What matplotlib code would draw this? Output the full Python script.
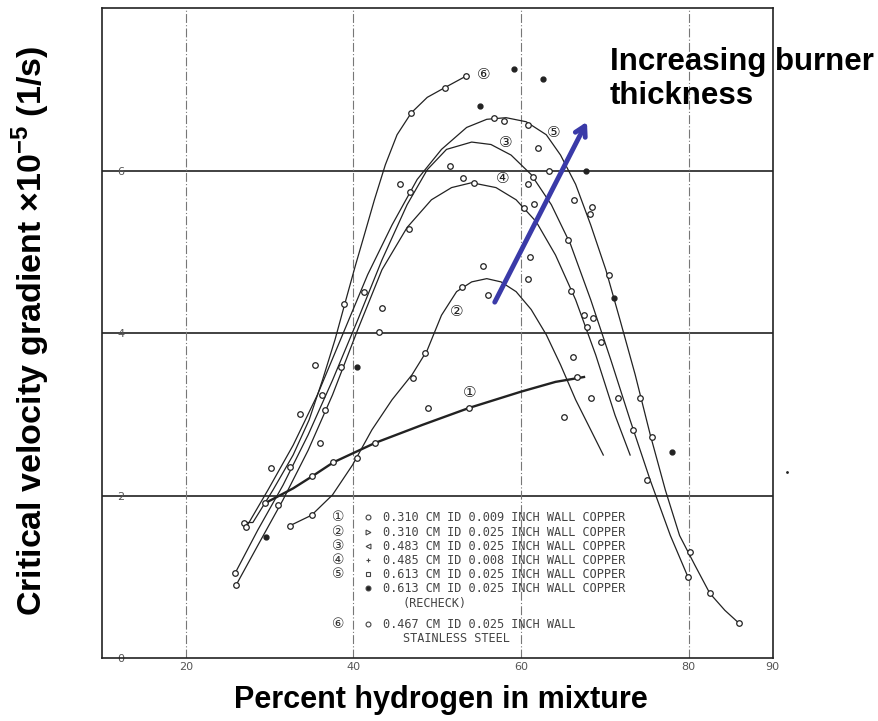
import numpy as np
import matplotlib
matplotlib.use("Agg")
import matplotlib.pyplot as plt

plt.rcParams['mathtext.fontset'] = 'custom'
plt.rcParams['mathtext.rm'] = 'Liberation Sans:bold'
plt.rcParams['mathtext.bf'] = 'Liberation Sans:bold'

# curve traces (percent H2, gradient x1e-5)
c1_x = [29.5, 32.8, 35.1, 37.6, 42.6, 48.2, 53.8, 60.0, 64.1, 67.5]
c1_y = [1.91, 2.09, 2.24, 2.41, 2.65, 2.87, 3.08, 3.28, 3.40, 3.46]
c2_x = [32.4, 35.0, 37.5, 39.9, 42.2, 44.6, 47.0, 48.8, 50.5, 52.3, 54.1, 55.9, 57.6, 59.4,
        61.2, 63.0, 64.7, 66.5, 68.3, 69.8]
c2_y = [1.63, 1.76, 2.01, 2.38, 2.81, 3.18, 3.49, 3.79, 4.22, 4.51, 4.63, 4.67, 4.63, 4.51,
        4.29, 3.98, 3.61, 3.18, 2.81, 2.50]
c3_x = [25.9, 28.6, 31.6, 34.6, 37.5, 40.5, 43.4, 46.4, 48.8, 51.1, 54.1, 56.4, 58.8, 61.2,
        63.6, 65.9, 68.3, 70.7, 73.0, 75.4, 77.8, 79.9]
c3_y = [1.05, 1.58, 2.13, 2.75, 3.42, 4.16, 4.90, 5.58, 6.01, 6.26, 6.35, 6.32, 6.19, 5.95,
        5.58, 5.09, 4.41, 3.67, 2.93, 2.19, 1.51, 1.00]
c4_x = [26.0, 28.6, 31.6, 34.6, 37.5, 40.5, 43.4, 46.4, 49.3, 51.7, 54.1, 57.0, 59.4, 61.8,
        64.1, 66.5, 68.9, 71.2, 73.0]
c4_y = [0.90, 1.39, 1.95, 2.56, 3.24, 4.04, 4.78, 5.30, 5.64, 5.79, 5.85, 5.79, 5.64, 5.37,
        4.96, 4.41, 3.73, 2.99, 2.50]
c5_x = [27.2, 29.8, 32.8, 35.7, 38.7, 41.7, 44.6, 47.6, 50.5, 53.5, 55.9, 58.2, 60.6, 63.0,
        64.7, 66.5, 68.3, 70.1, 71.8, 73.6, 75.4, 77.2, 78.9, 80.7, 82.5, 84.3, 86.0]
c5_y = [1.61, 2.07, 2.62, 3.24, 3.98, 4.72, 5.33, 5.89, 6.26, 6.53, 6.63, 6.65, 6.60, 6.44,
        6.19, 5.83, 5.33, 4.78, 4.16, 3.49, 2.75, 2.07, 1.51, 1.15, 0.80, 0.59, 0.43]
c6_x = [26.9, 28.0, 30.4, 32.8, 34.7, 36.3, 37.8, 39.1, 40.2, 41.3, 42.5, 43.8, 45.2, 46.9,
        48.8, 50.9, 53.4]
c6_y = [1.67, 1.67, 2.07, 2.50, 2.93, 3.42, 3.92, 4.41, 4.82, 5.21, 5.64, 6.07, 6.44, 6.71,
        6.90, 7.02, 7.16]

# measured points (open symbols)
pts_x = [26.9, 27.2, 25.9, 26.0, 31.0, 29.5, 30.2, 32.4, 33.6, 35.1, 35.4, 36.2, 36.0, 36.6,
         37.6, 38.5, 38.9, 40.4, 41.3, 43.4, 43.0, 42.6, 32.4, 35.0, 47.1, 48.5, 48.9, 52.9,
         55.5, 56.1, 53.8, 53.4, 50.9, 46.9, 56.8, 57.9, 60.8, 62.0, 63.3, 51.5, 53.1, 54.4,
         61.4, 60.8, 45.6, 46.7, 60.4, 61.5, 66.3, 68.4, 68.2, 46.6, 65.6, 61.1, 60.8, 70.5,
         65.9, 67.5, 68.6, 67.9, 69.5, 66.2, 66.7, 68.3, 65.1, 71.5, 73.3, 75.0, 79.9, 80.1,
         82.5, 86.0, 74.2, 75.6]
pts_y = [1.67, 1.61, 1.05, 0.90, 1.88, 1.91, 2.34, 2.35, 3.00, 2.24, 3.61, 3.24, 2.65, 3.05,
         2.41, 3.58, 4.36, 2.46, 4.50, 4.31, 4.01, 2.65, 1.63, 1.76, 3.45, 3.76, 3.08, 4.57,
         4.82, 4.47, 3.08, 7.16, 7.02, 6.71, 6.64, 6.61, 6.56, 6.28, 5.99, 6.05, 5.91, 5.85,
         5.92, 5.83, 5.83, 5.74, 5.54, 5.59, 5.64, 5.55, 5.46, 5.28, 5.14, 4.94, 4.66, 4.72,
         4.52, 4.22, 4.19, 4.08, 3.89, 3.71, 3.46, 3.20, 2.97, 3.20, 2.81, 2.19, 1.00, 1.31,
         0.80, 0.43, 3.20, 2.72]
# recheck points (filled)
rc_x = [29.6, 40.4, 59.2, 62.6, 55.1, 67.7, 71.1, 78.0]
rc_y = [1.49, 3.58, 7.25, 7.13, 6.79, 6.00, 4.43, 2.54]

labels = ['①', '②', '③', '④', '⑤', '⑥']
label_x = [53.9, 52.3, 58.2, 57.8, 63.9, 55.5]
label_y = [3.27, 4.26, 6.34, 5.90, 6.47, 7.18]

legend_rows = ['0.310 CM ID 0.009 INCH WALL COPPER',
               '0.310 CM ID 0.025 INCH WALL COPPER',
               '0.483 CM ID 0.025 INCH WALL COPPER',
               '0.485 CM ID 0.008 INCH WALL COPPER',
               '0.613 CM ID 0.025 INCH WALL COPPER',
               '0.613 CM ID 0.025 INCH WALL COPPER',
               '(RECHECK)',
               '0.467 CM ID 0.025 INCH WALL',
               'STAINLESS STEEL']
legend_nums = ['①', '②', '③', '④', '⑤', '', '', '⑥', '']

ink = '#222222'
cjk = ['DejaVu Sans', 'Noto Sans CJK JP']

fig = plt.figure(figsize=(8.79, 7.21), dpi=100)
ax = fig.add_axes([0.116, 0.087, 0.763, 0.902])
ax.set_xlim(10, 90)
ax.set_ylim(0, 8)

for yv in [2, 4, 6]:
    ax.axhline(yv, color='#333333', lw=1.3, zorder=1)
for xv in [20, 40, 60, 80]:
    ax.axvline(xv, color='#777777', lw=0.8, ls=(0, (8, 2, 1, 2)), zorder=1)

for cx, cy in [(c2_x, c2_y), (c3_x, c3_y), (c4_x, c4_y), (c5_x, c5_y), (c6_x, c6_y)]:
    ax.plot(cx, cy, color=ink, lw=0.9, zorder=2, solid_joinstyle='round')
ax.plot(c1_x, c1_y, color=ink, lw=1.7, zorder=2, solid_joinstyle='round')

ax.plot(pts_x, pts_y, 'o', ms=4, mfc='white', mec=ink, mew=0.9, zorder=3, ls='none')
ax.plot(rc_x, rc_y, 'o', ms=3.5, mfc=ink, mec=ink, zorder=3, ls='none')
ax.plot([91.7], [2.29], '.', ms=2, color=ink, clip_on=False)

for t, lx, ly in zip(labels, label_x, label_y):
    ax.text(lx, ly, t, fontsize=11, color=ink, ha='center', va='center', family=cjk, zorder=4)

# scanned legend block
row_y = [517, 532, 546, 560, 574, 588, 603, 624, 638]
marks = ['o', '>', '<', '+', 's', 'o', None, 'o', None]
for i, (txt, num, py) in enumerate(zip(legend_rows, legend_nums, row_y)):
    fy = (658 - py) / 650
    indent = 0.030 if txt in ('(RECHECK)', 'STAINLESS STEEL') else 0.0
    ax.text((383 - 102) / 671 + indent, fy, txt, transform=ax.transAxes, fontsize=8.6,
            family='DejaVu Sans Mono', color='#444444', va='center', ha='left')
    if num:
        ax.text((338 - 102) / 671, fy, num, transform=ax.transAxes, fontsize=10,
                family=cjk, color='#333333', va='center', ha='center')
    if marks[i]:
        filled = (i == 5)
        ax.plot([(368 - 102) / 671], [fy], marks[i], transform=ax.transAxes, ms=3.5,
                mfc=ink if filled else 'white', mec='#444444', mew=0.8)

ax.set_xticks([20, 40, 60, 80, 90])
ax.set_yticks([0, 2, 4, 6])
ax.tick_params(length=0, labelsize=8, labelcolor='#555555')
ax.tick_params(axis='y', pad=-16)
ax.tick_params(axis='x', pad=3)
for s in ax.spines.values():
    s.set_color('#222222')
    s.set_linewidth(1.2)

ax.annotate('', xy=(68.0, 6.63), xytext=(56.7, 4.35),
            arrowprops=dict(arrowstyle='->,head_length=0.7,head_width=0.4', color='#3a3aa8', lw=3.5),
            zorder=5)
fig.text(0.694, 0.890, 'Increasing burner\nthickness', fontsize=22.5, fontweight='bold',
         family='Liberation Sans', ha='left', va='center', linespacing=1.18)

fig.text(0.502, 0.029, 'Percent hydrogen in mixture', fontsize=22, fontweight='bold',
         family='Liberation Sans', ha='center', va='center')
fig.text(0.035, 0.541, r'Critical velocity gradient ×10$^{-5}$ (1/s)', fontsize=24.5,
         fontweight='bold', family='Liberation Sans', rotation=90, ha='center', va='center')

fig.savefig('out.png', dpi=100)
